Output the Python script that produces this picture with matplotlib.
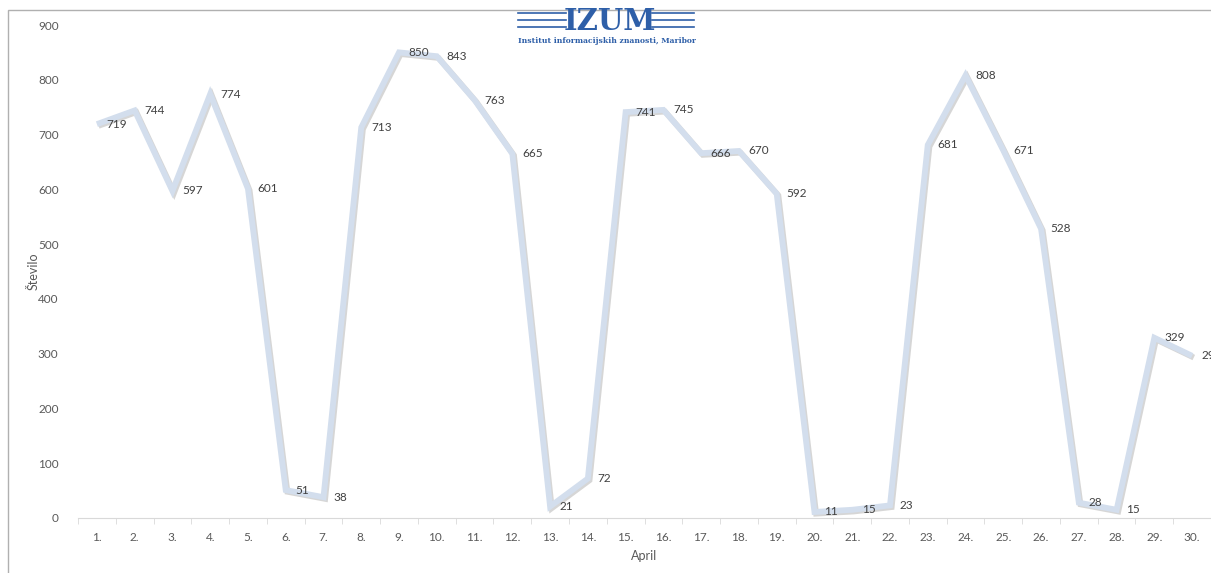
import matplotlib
matplotlib.use("Agg")
import matplotlib.pyplot as plt
import matplotlib.patheffects as pe
from matplotlib.patches import Rectangle

days = [f"{i}." for i in range(1, 31)]
values = [719, 744, 597, 774, 601, 51, 38, 713, 850, 843, 763, 665, 21, 72,
          741, 745, 666, 670, 592, 11, 15, 23, 681, 808, 671, 528, 28, 15, 329, 296]
yticks = [0, 100, 200, 300, 400, 500, 600, 700, 800, 900]

plt.rcParams['font.family'] = ['Lato', 'DejaVu Sans']

fig = plt.figure(figsize=(12.11, 5.73), dpi=100)
W, H = 1211, 573
# chart border
fig.patches.append(Rectangle((8 / W, -0.1), 1.2, (573 - 10) / H + 0.1, transform=fig.transFigure,
                             fill=False, edgecolor='#b0b0b0', linewidth=1))

ax = fig.add_axes([78 / W, (573 - 518) / H, (1211 - 78) / W, (518 - 25) / H])
x = list(range(len(values)))
ax.plot(x, values, color='#d3deed', linewidth=4.2, solid_joinstyle='miter', solid_capstyle='butt',
        path_effects=[pe.SimpleLineShadow(offset=(1.2, -1.2), shadow_color='#8a8a8a', alpha=0.35),
                      pe.Normal()],
        zorder=3)

for xi, v in zip(x, values):
    ax.annotate(str(v), (xi, v), xytext=(7, 0), textcoords='offset points',
                ha='left', va='center', fontsize=8.5, color='#404040', zorder=4,
                annotation_clip=False)

ax.set_xlim(-0.5, len(values) - 0.5)
ax.set_ylim(0, 900)
ax.set_yticks(yticks)
ax.set_yticklabels([str(t) for t in yticks], fontsize=8.5, color='#595959')
ax.set_xticks(x)
ax.set_xticklabels(days, fontsize=8.5, color='#595959')
ax.set_xticks([i - 0.5 for i in range(len(values) + 1)], minor=True)
ax.tick_params(axis='x', which='major', length=0, pad=10)
ax.tick_params(axis='x', which='minor', length=4, color='#d9d9d9', direction='out')
ax.tick_params(axis='y', length=0, pad=14)
for s in ['top', 'right', 'left']:
    ax.spines[s].set_visible(False)
ax.spines['bottom'].set_color('#d9d9d9')
ax.set_xlabel('April', fontsize=9, color='#595959', labelpad=5)
ax.set_ylabel('Število', fontsize=9, color='#595959', labelpad=-1)

# logo
fig.text(610 / W, 1 - 21 / H, 'IZUM', fontsize=21, fontweight='bold', family='DejaVu Serif',
         color='#2e5fa8', ha='center', va='center')
for x0, x1 in [(518, 566), (652, 694)]:
    for dy in (13, 20, 27):
        fig.add_artist(plt.Line2D([x0 / W, x1 / W], [1 - dy / H, 1 - dy / H], color='#2e5fa8',
                                  linewidth=1.2, transform=fig.transFigure))
fig.text(607 / W, 1 - 41 / H, 'Institut informacijskih znanosti, Maribor', fontsize=5.5,
         fontweight='bold', family='DejaVu Serif', color='#2e5fa8', ha='center', va='center')

fig.savefig('out.png', dpi=100)
